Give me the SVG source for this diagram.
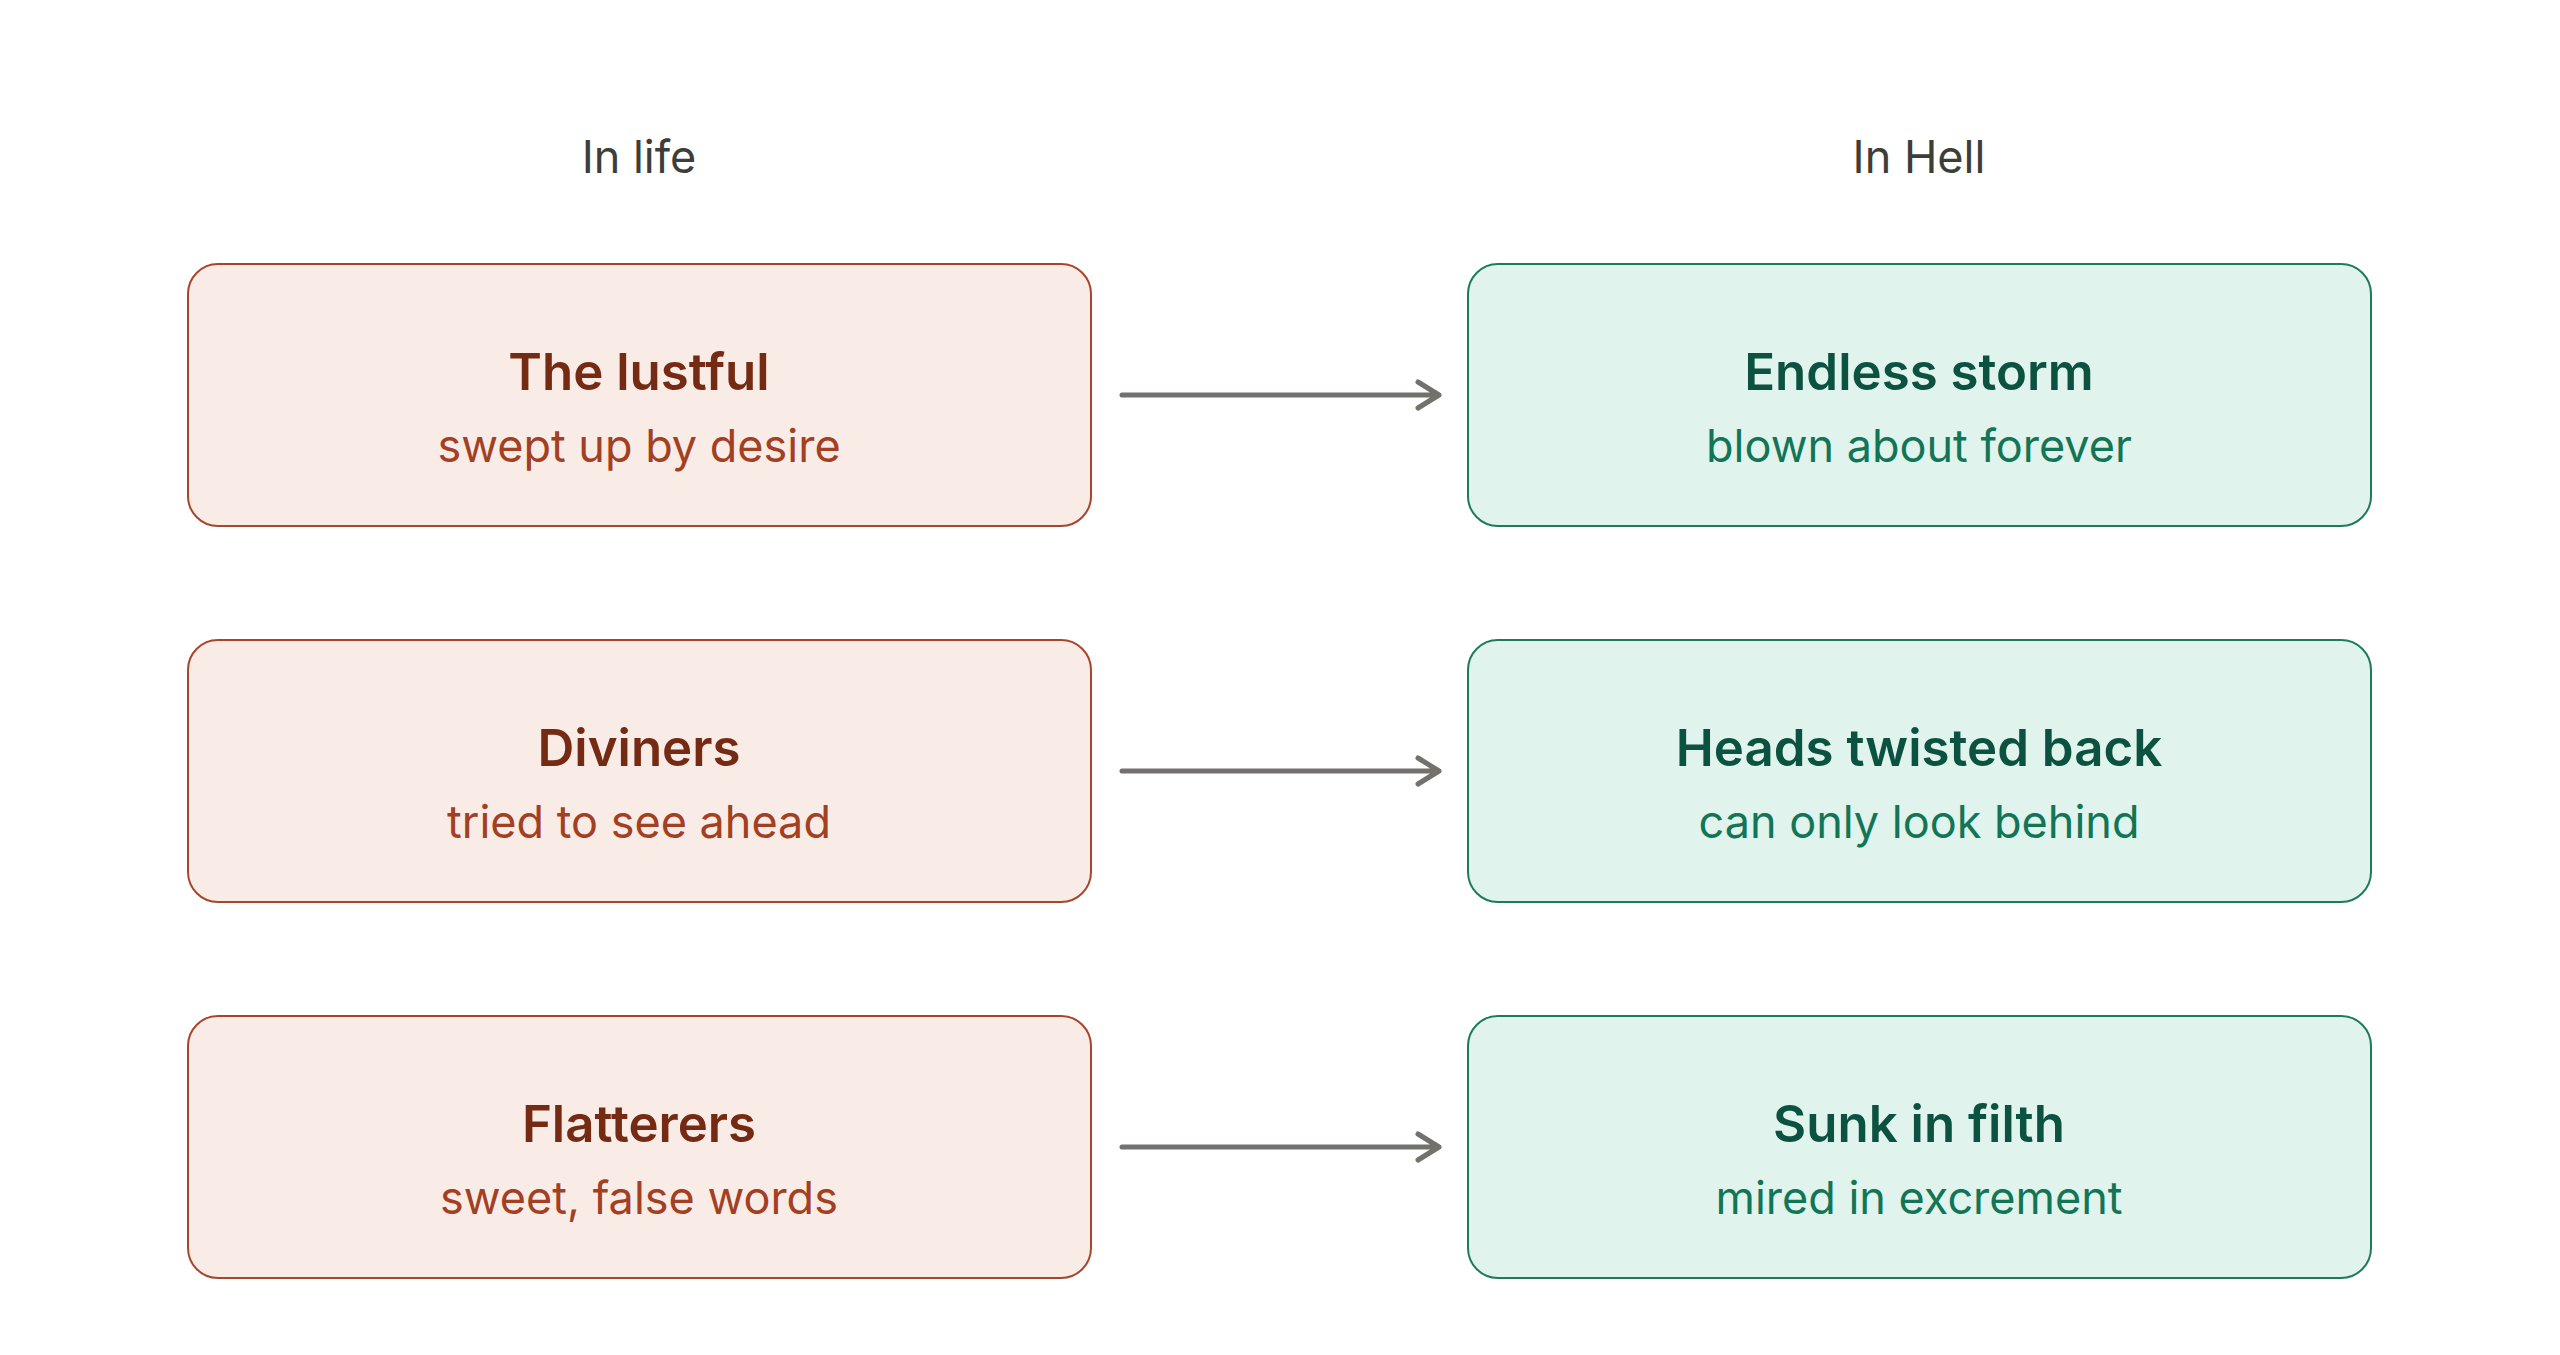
<svg xmlns="http://www.w3.org/2000/svg" width="2560" height="1355" viewBox="0 0 2560 1355">
<style>
.hdr{font-family:Inter,"Noto Sans",sans-serif;font-size:45px;fill:#3d3d3a;text-anchor:middle}
.boxL{fill:#f9ece7;stroke:#a8452b;stroke-width:2}
.boxR{fill:#e0f3ec;stroke:#1f7a5c;stroke-width:2}
.t{font-family:Inter,"Noto Sans",sans-serif;font-size:51px;font-weight:600;text-anchor:middle}
.s{font-family:Inter,"Noto Sans",sans-serif;font-size:45px;text-anchor:middle}
.tL{fill:#752b13}.sL{fill:#a33f22}
.tR{fill:#0c5240}.sR{fill:#127556}
.edge{stroke:#72716c;stroke-width:5;fill:none;stroke-linecap:round;stroke-linejoin:round}
</style>
<rect width="2560" height="1355" fill="#ffffff"/>
<text class="hdr" x="639" y="173">In life</text>
<text class="hdr" x="1919" y="173">In Hell</text>
<g id="n1"><rect class="boxL" x="188" y="264" width="903" height="262" rx="30"/><text class="t tL" x="639" y="390">The lustful</text><text class="s sL" x="639" y="462">swept up by desire</text></g>
<g id="n2"><rect class="boxL" x="188" y="640" width="903" height="262" rx="30"/><text class="t tL" x="639" y="766">Diviners</text><text class="s sL" x="639" y="838">tried to see ahead</text></g>
<g id="n3"><rect class="boxL" x="188" y="1016" width="903" height="262" rx="30"/><text class="t tL" x="639" y="1142">Flatterers</text><text class="s sL" x="639" y="1214">sweet, false words</text></g>
<g id="m1"><rect class="boxR" x="1468" y="264" width="903" height="262" rx="30"/><text class="t tR" x="1919" y="390">Endless storm</text><text class="s sR" x="1919" y="462">blown about forever</text></g>
<g id="m2"><rect class="boxR" x="1468" y="640" width="903" height="262" rx="30"/><text class="t tR" x="1919" y="766">Heads twisted back</text><text class="s sR" x="1919" y="838">can only look behind</text></g>
<g id="m3"><rect class="boxR" x="1468" y="1016" width="903" height="262" rx="30"/><text class="t tR" x="1919" y="1142">Sunk in filth</text><text class="s sR" x="1919" y="1214">mired in excrement</text></g>
<g id="connectors">
<path class="edge" d="M1122 395H1439M1418 382L1439 395L1418 408"/>
<path class="edge" d="M1122 771H1439M1418 758L1439 771L1418 784"/>
<path class="edge" d="M1122 1147H1439M1418 1134L1439 1147L1418 1160"/>
</g>
</svg>
